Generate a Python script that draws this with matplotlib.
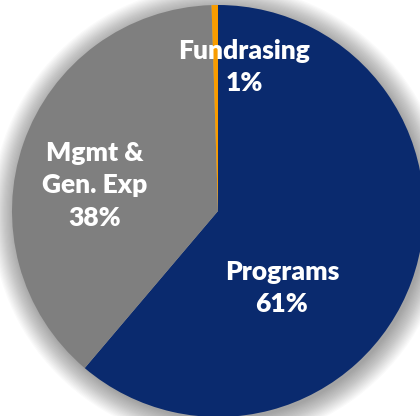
import numpy as np
import matplotlib.pyplot as plt
from matplotlib.patches import Circle

categories = ['Programs', 'Mgmt &\nGen. Exp', 'Fundrasing']
values = [61.2, 38.3, 0.5]
pct_labels = ['61%', '38%', '1%']
colors = ['#0a2a6e', '#7f7f7f', '#f89c00']

fig = plt.figure(figsize=(4.2, 4.16), dpi=100)
ax = fig.add_axes([0, 0, 1, 1])

# soft glow / shadow around the pie
for r in np.linspace(1.11, 1.0, 20):
    ax.add_patch(Circle((0.01, -0.014), r, color='#000000', alpha=0.02, lw=0, zorder=0))

wedges, _ = ax.pie(values, colors=colors, startangle=90, counterclock=False,
                   radius=1.0, wedgeprops=dict(lw=0))
for w in wedges:
    w.set_zorder(2)

# text positions
txt_xy = [(0.31, -0.374), (-0.597, 0.125), (0.126, 0.70)]
for (x, y), cat, pct in zip(txt_xy, categories, pct_labels):
    ax.text(x, y, cat + '\n' + pct, ha='center', va='center', color='white',
            fontsize=19, fontweight='heavy', family='Lato', linespacing=1.42, zorder=5)

ax.set_aspect('auto')
ax.set_xlim(-218 / 206, (420 - 218) / 206)
ax.set_ylim(-(416 - 211) / 206, 211 / 206)
ax.axis('off')

fig.savefig('out.png', dpi=100)
